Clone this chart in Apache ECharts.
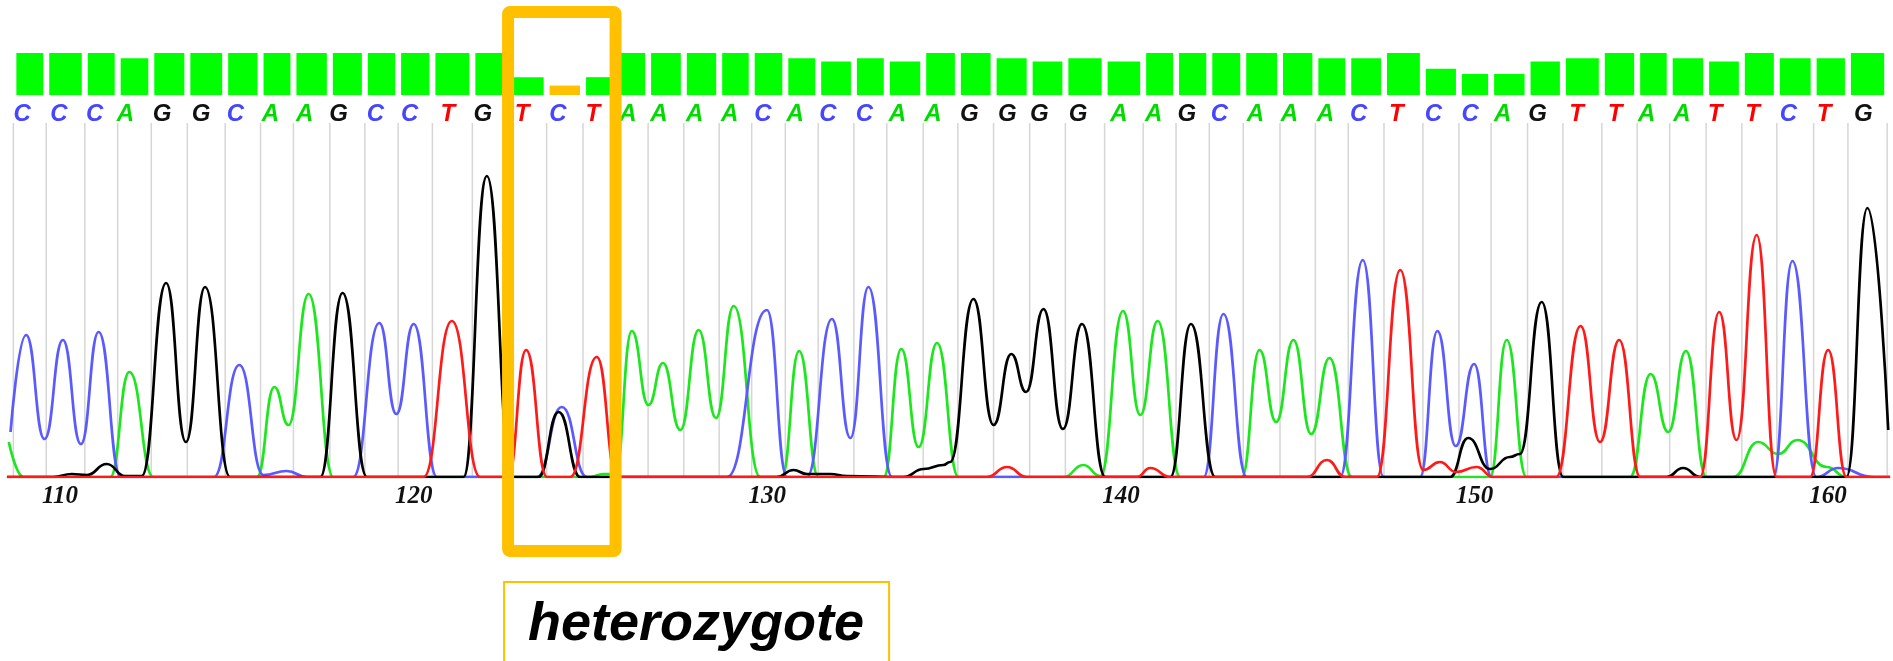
<!DOCTYPE html>
<html>
<head>
    <meta charset="UTF-8">
    <title>heterozygote trace</title>
    <script src="https://cdn.jsdelivr.net/npm/echarts@6/dist/echarts.min.js"></script>
    <style>
        body, html {
            margin: 0;
            padding: 0;
            background: #fff;
        }

        #trace {
            width: 1893px;
            height: 661px;
        }
    </style>
</head>
<body>
<div id="trace"></div>
<script>
    // base calls, read left to right
    var bases = ['C', 'C', 'C', 'A', 'G', 'G', 'C', 'A', 'A', 'G', 'C', 'C', 'T', 'G', 'T', 'C', 'T',
        'A', 'A', 'A', 'A', 'C', 'A', 'C', 'C', 'A', 'A', 'G', 'G', 'G', 'G', 'A', 'A', 'G', 'C',
        'A', 'A', 'A', 'C', 'T', 'C', 'C', 'A', 'G', 'T', 'T', 'A', 'A', 'T', 'T', 'C', 'T', 'G'];
    // peak position of each call (base-number units)
    var basePos = [109.04, 110.08, 111.09, 111.96, 113.00, 114.10, 115.07, 116.06, 117.03, 117.99,
        119.03, 120.00, 121.08, 122.07, 123.18, 124.19, 125.18, 126.17, 127.05, 128.06, 129.05,
        129.99, 130.90, 131.83, 132.86, 133.79, 134.80, 135.83, 136.90, 137.81, 138.90, 140.06,
        141.04, 141.98, 142.90, 143.92, 144.88, 145.90, 146.84, 147.90, 148.95, 149.99, 150.91,
        151.90, 153.00, 154.09, 154.98, 155.98, 156.92, 157.98, 158.99, 160.00, 161.11];
    // base boundaries (the grey separators)
    var bounds = [108.68, 109.61, 110.70, 111.63, 112.58, 113.60, 114.67, 115.67, 116.60, 117.63,
        118.62, 119.56, 120.53, 121.66, 122.67, 123.76, 124.79, 125.71, 126.63, 127.64, 128.64,
        129.56, 130.51, 131.44, 132.45, 133.38, 134.41, 135.39, 136.40, 137.42, 138.43, 139.54,
        140.63, 141.56, 142.50, 143.46, 144.50, 145.50, 146.43, 147.44, 148.54, 149.56, 150.47,
        151.50, 152.50, 153.60, 154.60, 155.52, 156.55, 157.56, 158.55, 159.59, 160.56, 161.67];
    // quality value per call
    var quality = [40, 40, 40, 35, 40, 40, 40, 40, 40, 40, 40, 40, 40, 40, 17, 9, 17,
        40, 40, 40, 40, 40, 35, 32, 35, 32, 40, 40, 35, 32, 35, 32, 40, 40, 40,
        40, 40, 35, 35, 40, 25, 20, 20, 32, 35, 40, 40, 35, 32, 40, 35, 35, 40];
    var mixedBase = 15;      // the C/G call with low quality
    var hetFrom = 14, hetTo = 16;
    var tickValues = [110, 120, 130, 140, 150, 160];
    var noteText = 'heterozygote';

    // traces: [position, signal]
    var traceA = [[108.55, 35], [108.97, 0], [111.42, 0], [111.96, 105], [112.64, 0], [115.57, 0],
        [116.06, 90], [116.46, 52], [117.03, 183], [117.73, 0], [124.99, 0], [125.36, 3], [125.7, 3],
        [126.17, 146], [126.64, 72], [127.05, 114], [127.54, 47], [128.06, 147], [128.55, 59],
        [129.05, 171], [129.8, 0], [130.41, 0], [130.9, 126], [131.45, 0], [133.29, 0], [133.79, 128],
        [134.28, 30], [134.8, 134], [135.41, 0], [138.38, 0], [138.94, 12], [139.42, 1], [140.06, 166],
        [140.55, 62], [141.04, 156], [141.68, 0], [143.42, 0], [143.92, 127], [144.39, 55],
        [144.88, 137], [145.38, 43], [145.9, 119], [146.53, 0], [150.44, 0], [150.91, 137],
        [151.47, 0], [154.4, 0], [154.98, 103], [155.48, 45], [155.98, 126], [156.56, 0], [157.32, 0],
        [158.02, 35], [158.59, 23], [159.13, 37], [159.96, 10], [160.52, 0], [161.75, 0]];
    var traceC = [[108.6, 45], [109.04, 142], [109.56, 38], [110.08, 137], [110.59, 33], [111.09, 145],
        [111.72, 0], [114.35, 0], [115.07, 112], [115.75, 2], [116.41, 6], [116.98, 0], [118.29, 0],
        [119.03, 154], [119.51, 63], [120.0, 153], [120.66, 0], [123.49, 0], [124.19, 70], [124.9, 0],
        [128.86, 0], [129.99, 167], [130.56, 0], [131.12, 0], [131.83, 158], [132.35, 39],
        [132.86, 190], [133.53, 0], [142.34, 0], [142.9, 163], [143.56, 0], [146.2, 0], [146.84, 217],
        [147.43, 0], [148.46, 0], [148.95, 146], [149.47, 31], [149.99, 113], [150.48, 0],
        [158.45, 0], [158.99, 216], [159.67, 0], [160.29, 9], [161.28, 0], [161.75, 0]];
    var traceG = [[108.5, 0], [109.81, 0], [110.33, 3], [110.76, 2], [111.32, 13], [111.84, 1],
        [112.31, 1], [113.0, 194], [113.56, 35], [114.1, 190], [114.81, 0], [117.36, 0], [117.99, 184],
        [118.68, 0], [121.41, 0], [122.07, 301], [122.78, 0], [123.53, 0], [124.1, 65], [124.71, 0],
        [130.27, 0], [130.74, 7], [131.12, 3], [131.78, 3], [132.25, 1], [133.85, 0], [134.42, 8],
        [134.98, 12], [135.17, 15], [135.83, 178], [136.4, 52], [136.9, 123], [137.32, 85],
        [137.81, 168], [138.36, 48], [138.9, 153], [139.56, 0], [141.4, 0], [141.98, 153],
        [142.67, 0], [149.31, 0], [149.82, 39], [150.44, 8], [151.0, 20], [151.28, 23], [151.9, 175],
        [152.51, 0], [155.43, 0], [155.9, 9], [156.38, 0], [160.52, 0], [161.11, 269], [161.7, 47]];
    var traceT = [[108.5, 0], [120.28, 0], [121.08, 156], [121.88, 0], [122.67, 0], [123.18, 127],
        [123.77, 0], [124.43, 0], [125.18, 120], [125.75, 0], [136.21, 0], [136.78, 10], [137.34, 0],
        [140.45, 0], [140.83, 9], [141.4, 0], [145.26, 0], [145.83, 17], [146.34, 0], [147.24, 0],
        [147.9, 207], [148.55, 7], [149.02, 15], [149.48, 5], [150.06, 10], [150.53, 0], [152.31, 0],
        [153.0, 151], [153.55, 35], [154.09, 137], [154.69, 0], [156.38, 0], [156.92, 165],
        [157.41, 37], [157.98, 242], [158.54, 0], [159.49, 0], [160.0, 127], [160.52, 0], [161.75, 0]];

    var letterColor = {A: '#00dc00', C: '#4646ff', G: '#111111', T: '#ff0000'};
    var traceColor = {A: '#1ee61e', C: '#5a5aff', G: '#000000', T: '#ff1a1a'};
    var orange = '#ffc000';

    var chart = echarts.init(document.getElementById('trace'), null, {renderer: 'canvas'});

    function traceSeries(name, data) {
        return {
            name: name,
            type: 'line',
            xAxisIndex: 1,
            yAxisIndex: 1,
            data: data,
            showSymbol: false,
            smooth: 0.5,
            smoothMonotone: 'x',
            silent: true,
            z: 3,
            lineStyle: {color: traceColor[name], width: 2.7}
        };
    }

    var option = {
        backgroundColor: '#fff',
        animation: false,
        grid: [
            {left: 7, right: 3, top: 53, height: 42},
            {left: 7, right: 3, top: 123, bottom: 184}
        ],
        xAxis: [
            {type: 'value', gridIndex: 0, min: 108.5, max: 161.75, show: false},
            {
                type: 'value', gridIndex: 1, min: 108.5, max: 161.75,
                splitLine: {show: false},
                axisTick: {show: false},
                axisLine: {lineStyle: {color: '#ff9a9a', width: 1.5}},
                axisLabel: {
                    customValues: tickValues,
                    margin: 7,
                    color: '#111',
                    fontFamily: 'Liberation Serif',
                    fontStyle: 'italic',
                    fontWeight: 'bold',
                    fontSize: 25
                }
            }
        ],
        yAxis: [
            {type: 'value', gridIndex: 0, min: 0, max: 40, show: false},
            {type: 'value', gridIndex: 1, min: 0, max: 354, show: false}
        ],
        series: [
            {
                type: 'custom',
                xAxisIndex: 0,
                yAxisIndex: 0,
                silent: true,
                data: quality.map(function (q, i) {
                    return [bounds[i], bounds[i + 1], q, i];
                }),
                encode: {x: [0, 1], y: 2},
                renderItem: function (params, api) {
                    var top = api.coord([api.value(0), api.value(2)]);
                    var bot = api.coord([api.value(1), 0]);
                    return {
                        type: 'rect',
                        shape: {x: top[0] + 3, y: top[1], width: bot[0] - top[0] - 6, height: bot[1] - top[1]},
                        style: {fill: api.value(3) === mixedBase ? orange : '#00ff00', stroke: null}
                    };
                }
            },
            {
                type: 'custom',
                xAxisIndex: 0,
                yAxisIndex: 0,
                silent: true,
                data: basePos.map(function (p, i) {
                    return [p, i];
                }),
                encode: {x: 0},
                renderItem: function (params, api) {
                    var pt = api.coord([api.value(0), 0]);
                    var b = bases[api.value(1)];
                    return {
                        type: 'text',
                        x: pt[0] - 4,
                        y: pt[1] + 19,
                        style: {
                            text: b,
                            fill: letterColor[b],
                            font: 'italic bold 24px "Liberation Sans"',
                            align: 'center',
                            verticalAlign: 'middle'
                        }
                    };
                }
            },
            {
                type: 'custom',
                xAxisIndex: 1,
                yAxisIndex: 1,
                silent: true,
                z: 1,
                data: bounds.map(function (b) {
                    return [b];
                }),
                encode: {x: 0},
                renderItem: function (params, api) {
                    var lo = api.coord([api.value(0), 0]);
                    var hi = api.coord([api.value(0), 354]);
                    return {
                        type: 'line',
                        shape: {x1: lo[0], y1: lo[1], x2: hi[0], y2: hi[1]},
                        style: {stroke: '#d6d6d6', lineWidth: 1.5}
                    };
                }
            },
            traceSeries('A', traceA),
            traceSeries('C', traceC),
            traceSeries('G', traceG),
            traceSeries('T', traceT)
        ]
    };
    chart.setOption(option);

    // highlight box around the mixed calls, and its note
    var x0 = chart.convertToPixel({xAxisIndex: 1}, bounds[hetFrom]);
    var x1 = chart.convertToPixel({xAxisIndex: 1}, bounds[hetTo + 1]);
    chart.setOption({
        graphic: [
            {
                type: 'rect', z: 100, silent: true,
                shape: {x: x0, y: 12, width: x1 - x0, height: 539, r: 2},
                style: {fill: null, stroke: orange, lineWidth: 12}
            },
            {
                type: 'rect', z: 100, silent: true,
                shape: {x: x0 - 4, y: 582, width: 385, height: 120},
                style: {fill: '#fff', stroke: orange, lineWidth: 2}
            },
            {
                type: 'text', z: 101, silent: true,
                x: x0 - 4 + 192, y: 625,
                style: {
                    text: noteText,
                    fill: '#000',
                    font: 'italic bold 54px "Liberation Sans"',
                    align: 'center',
                    verticalAlign: 'middle'
                }
            }
        ]
    });
</script>
</body>
</html>
